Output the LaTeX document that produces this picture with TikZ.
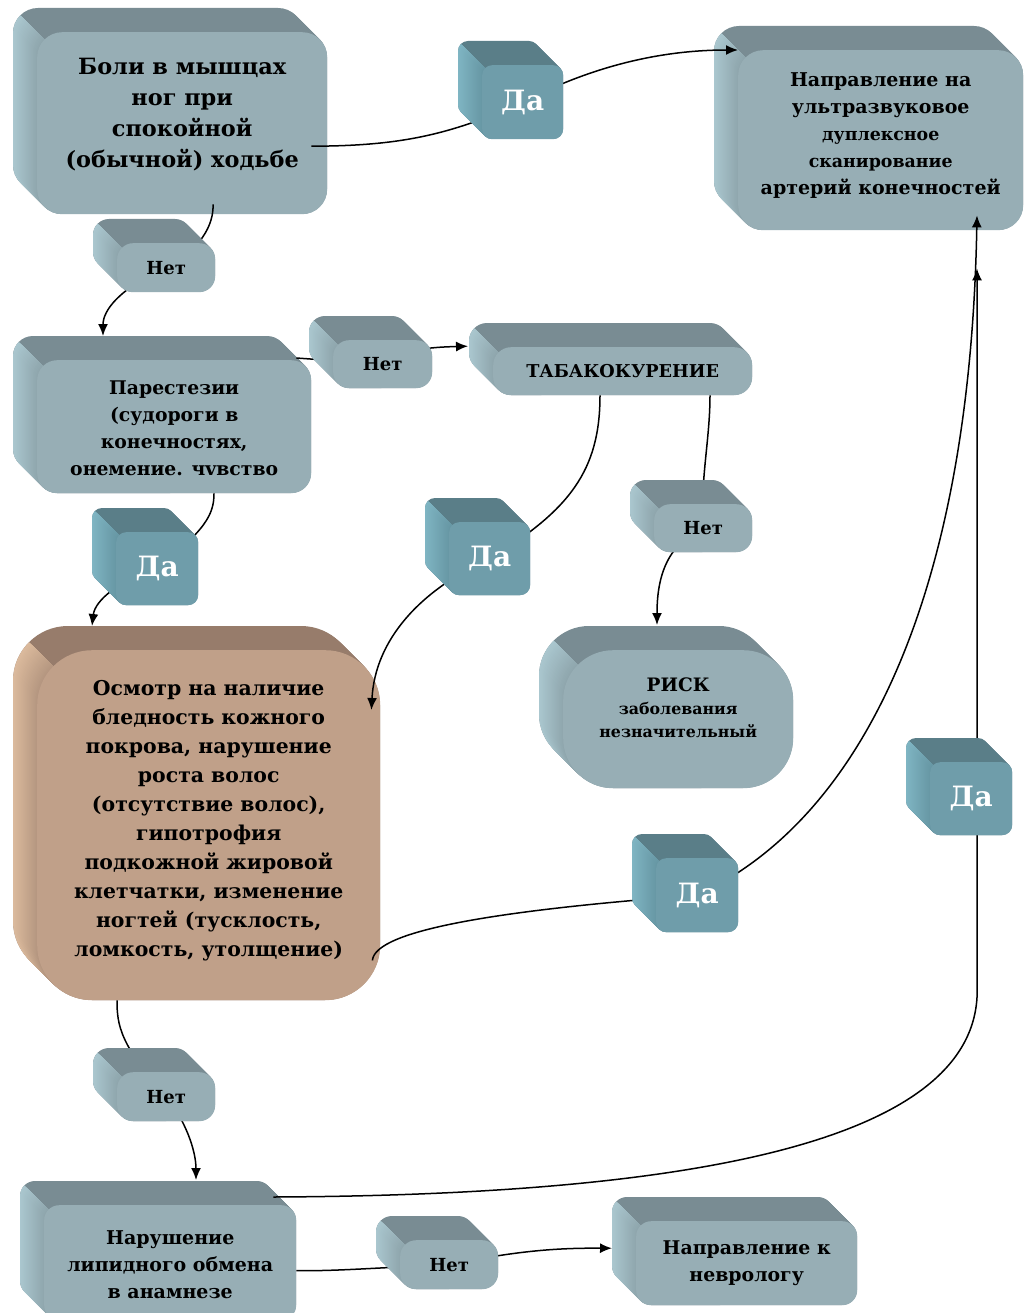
\documentclass[tikz,border=0pt]{standalone}
\usepackage{fontspec}
\setmainfont{DejaVu Serif}
\usetikzlibrary{arrows.meta,calc}
\pgfdeclarelayer{bg}
\pgfdeclarelayer{lbl}
\pgfsetlayers{bg,main,lbl}
\definecolor{greytop}{HTML}{798C93}
\definecolor{greylfar}{HTML}{ABC8D0}
\definecolor{greylnear}{HTML}{8FA6AD}
\definecolor{greyfront}{HTML}{97AEB5}
\definecolor{tealtop}{HTML}{5A7E88}
\definecolor{teallfar}{HTML}{80B6C4}
\definecolor{teallnear}{HTML}{6797A4}
\definecolor{tealfront}{HTML}{6F9DAA}
\definecolor{tantop}{HTML}{977C6B}
\definecolor{tanlfar}{HTML}{DDBC9E}
\definecolor{tanlnear}{HTML}{B49680}
\definecolor{tanfront}{HTML}{C0A089}
\tikzset{tdy/.store in=\tdy, tdy=0}
\newcommand\tdbox[9]{%
  \begin{scope}[tdy=0,#8]
  \foreach \k in {24,23,...,0}{%
    \fill[#1top, rounded corners=#6] ({#2-\k},{#3-\k}) rectangle ({#4-\k},{#5-\k});
  }%
  \begin{scope}
    \clip ({#2-80},{#3-80}) -- ({#2+2000},{#3+2000}) -- ({#2-80},{#3+2000}) -- cycle;
    \foreach \k in {24,23,...,0}{%
      \pgfmathtruncatemacro\p{4*\k}%
      \fill[#1lfar!\p!#1lnear, rounded corners=#6] ({#2-\k},{#3-\k}) rectangle ({#4-\k},{#5-\k});
    }%
  \end{scope}
  \node[fill=#1front, rounded corners=#6, anchor=north west, inner sep=0pt,
        minimum width={#4-#2}, minimum height={#5-#3}] (#7) at (#2,#3) {};
  \node[align=center, inner sep=0pt] (#7-t) at ($(#7.center)+(0,\tdy)$) {#9};
  \end{scope}
}
\tikzset{
  conn/.style={draw=black, line width=1.5pt},
  arr/.style={conn, -{Latex[length=12pt,width=10pt]}},
  maintext/.style={font=\bfseries\fontsize{18.8}{27}\selectfont, text=black},
  nettext/.style={font=\bfseries\fontsize{18}{20}\selectfont, text=black},
  datext/.style={font=\bfseries\fontsize{28}{30}\selectfont, text=white},
}
\begin{document}
\begin{tikzpicture}[x=1pt,y=-1pt]
\useasboundingbox (0,0) rectangle (1025,1313);
\begin{pgfonlayer}{bg}
\fill[white] (0,0) rectangle (1025,1313);
\tdbox{grey}{37}{32}{327}{214}{25}{boli}{maintext, font=\bfseries\fontsize{22.4}{31}\selectfont, tdy=-9}{Боли в мышцах\\ног при\\спокойной\\(обычной) ходьбе}
\tdbox{grey}{738}{50}{1023}{230}{25}{uzds}{maintext, font=\bfseries\fontsize{19}{27}\selectfont, tdy=-5}{Направление на\\ультразвуковое\\{\fontsize{17.4}{27}\selectfont дуплексное}\\{\fontsize{17.4}{27}\selectfont сканирование}\\артерий конечностей}
\tdbox{grey}{37}{360}{311}{493}{20}{par}{maintext, tdy=2}{Парестезии\\(судороги в\\конечностях,\\онемение. чvвство}
\tdbox{grey}{493}{347}{752}{395}{18}{tab}{maintext, font=\bfseries\fontsize{17.7}{27}\selectfont}{ТАБАКОКУРЕНИЕ}
\tdbox{grey}{563}{650}{793}{788}{50}{risk}{maintext, font=\bfseries\fontsize{15.8}{23}\selectfont, tdy=-11}{{\fontsize{18.5}{23}\selectfont РИСК}\\заболевания\\незначительный}
\tdbox{tan}{37}{650}{380}{1000}{55}{osm}{maintext, font=\bfseries\fontsize{20.4}{29}\selectfont, tdy=-5}{Осмотр на наличие\\бледность кожного\\покрова, нарушение\\роста волос\\(отсутствие волос),\\гипотрофия\\подкожной жировой\\клетчатки, изменение\\ногтей (тусклость,\\ломкость, утолщение)}
\tdbox{grey}{44}{1205}{296}{1320}{15}{nar}{maintext, font=\bfseries\fontsize{19}{27}\selectfont, tdy=2}{Нарушение\\липидного обмена\\в анамнезе}
\tdbox{grey}{636}{1221}{857}{1305}{15}{nev}{maintext, font=\bfseries\fontsize{18.9}{27}\selectfont}{Направление к\\неврологу}
\end{pgfonlayer}
\begin{pgfonlayer}{lbl}
\tdbox{teal}{482}{65}{563}{139}{10}{da1}{datext}{Да}
\tdbox{grey}{117}{243}{215}{292}{16}{net1}{nettext}{Нет}
\tdbox{grey}{333}{340}{432}{388}{16}{net2}{nettext}{Нет}
\tdbox{teal}{116}{532}{198}{605}{10}{da2}{datext}{Да}
\tdbox{teal}{449}{522}{530}{595}{10}{da3}{datext}{Да}
\tdbox{grey}{654}{504}{752}{552}{16}{net3}{nettext}{Нет}
\tdbox{teal}{930}{762}{1012}{835}{10}{da4}{datext}{Да}
\tdbox{teal}{656}{858}{738}{932}{10}{da5}{datext}{Да}
\tdbox{grey}{117}{1072}{215}{1121}{16}{net4}{nettext}{Нет}
\tdbox{grey}{400}{1240}{498}{1289}{16}{net5}{nettext}{Нет}
\end{pgfonlayer}
% connectors
\draw[conn] ($(boli.east)+(-16,23)$) .. controls (400,146) and (450,135) .. (da1.center);
\draw[arr] (da1.center) .. controls (600,62) and (670,50) .. (uzds.north west);
\draw[conn] ($(boli.south west)+(176,-10)$) .. controls (214,225) and (200,250) .. (net1.center);
\draw[arr] (net1.center) .. controls (120,288) and (103,310) .. ($(par.north west)+(66,-24)$);
\draw[conn] ($(par.north east)+(-15,-2)$) -- (net2.center);
\draw[arr] (net2.center) .. controls (400,348) and (440,347) .. ($(tab.west)+(-25,-25)$);
\draw[conn] ($(par.south west)+(177,0)$) .. controls (214,515) and (205,530) .. (da2.center);
\draw[arr] (da2.center) .. controls (120,580) and (95,600) .. ($(osm.north west)+(55,-24)$);
\draw[conn] ($(tab.south west)+(107,0)$) .. controls (600,470) and (570,510) .. (da3.center);
\draw[arr] (da3.center) .. controls (420,590) and (375,640) .. ($(osm.north east)+(-9,60)$);
\draw[conn] ($(tab.south west)+(217,0)$) .. controls (710,440) and (700,480) .. (net3.center);
\draw[arr] (net3.center) .. controls (665,545) and (657,580) .. ($(risk.north west)+(94,-25)$);
\draw[conn] ($(osm.south east)+(-8,-40)$) .. controls (375,930) and (500,910) .. (da5.center);
\draw[arr] (da5.center) .. controls (860,820) and (970,600) .. ($(uzds.south west)+(239,-15)$);
\draw[conn] ($(osm.south west)+(80,0)$) .. controls (117,1025) and (120,1045) .. (net4.center);
\draw[arr] (net4.center) .. controls (185,1120) and (196,1150) .. ($(nar.north west)+(152,-25)$);
\draw[conn] ($(nar.north east)+(-23,-8)$) .. controls (700,1195) and (977,1140) .. ($(da4.center)+(6,192)$) -- ($(da4.center)+(6,0)$);
\draw[arr] ($(da4.center)+(6,0)$) -- ($(uzds.south west)+(239,38)$);
\draw[conn] ($(nar.east)+(0,8)$) .. controls (340,1271) and (370,1268) .. (net5.center);
\draw[arr] (net5.center) .. controls (520,1250) and (560,1248) .. ($(nev.west)+(-24,-15)$);
\end{tikzpicture}
\end{document}
